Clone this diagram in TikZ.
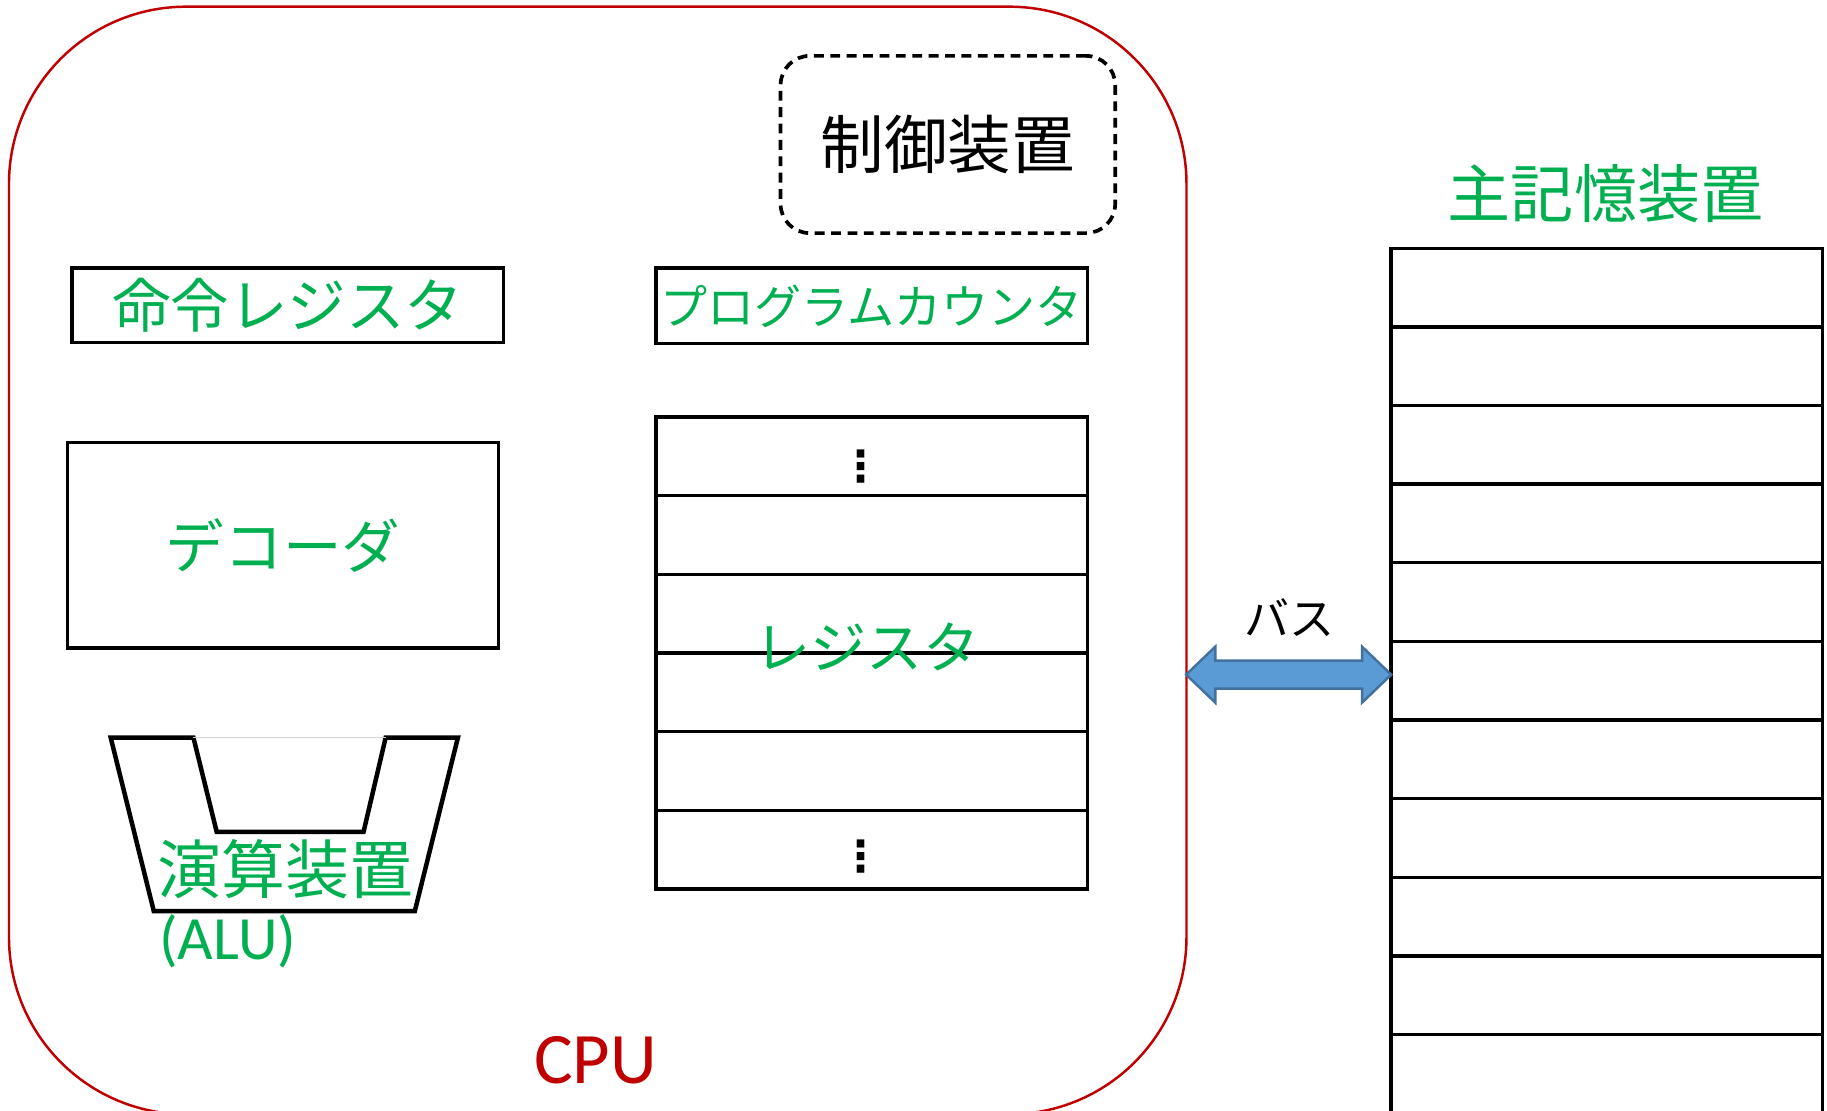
\documentclass[tikz,border=0pt]{standalone}
\usepackage{fontspec}
\setmainfont{Carlito}
\newfontfamily\jpfont{Noto Sans CJK JP}
\newfontfamily\symfont{DejaVu Sans}
\usetikzlibrary{positioning}
\definecolor{cpured}{HTML}{C00000}
\definecolor{partgreen}{HTML}{00B050}
\definecolor{busfill}{HTML}{5B9BD5}
\definecolor{busedge}{HTML}{41719C}
\newcommand{\jpsize}[1]{\jpfont\fontsize{#1}{#1}\selectfont}
\tikzstyle{cpubox} = [rectangle, rounded corners=1.52cm, minimum width=10.1cm, minimum height=9.5cm, draw=cpured, line width=0.6pt]
\tikzstyle{ctrlbox} = [rectangle, rounded corners=0.25cm, minimum width=2.87cm, minimum height=1.52cm, draw=black, line width=0.9pt, dash pattern=on 2.4pt off 1.6pt, font=\jpsize{15.5pt}]
\tikzstyle{regbox} = [rectangle, minimum width=3.7cm, draw=black, line width=0.8pt, text=partgreen, inner sep=0pt, font=\jpsize{14.3pt}]
\tikzstyle{cell} = [rectangle, minimum width=3.7cm, minimum height=0.675cm, draw=black, line width=0.8pt, inner sep=0pt]
\tikzstyle{greenlabel} = [text=partgreen, inner sep=0pt]
\tikzstyle{rowdots} = [inner sep=0pt, font=\symfont\bfseries\fontsize{10.5pt}{10.5pt}\selectfont]
\tikzstyle{alushape} = [draw=black, line width=1.1pt, line join=miter]
\tikzstyle{busarrow} = [fill=busfill, draw=busedge, line width=0.6pt, line join=miter]

\begin{document}
\begin{tikzpicture}[x=0.01cm, y=-0.01cm]
    \useasboundingbox (0,0) rectangle (1568,953.5);
    \clip (0,0) rectangle (1568,953.5);
    % CPU
    \node (cpu) [cpubox] at (513,481) {};
    \node (cpulabel) [text=cpured, font=\fontsize{17.7pt}{18pt}\selectfont] at (511,910) {CPU};
    \node (ctrl) [ctrlbox] at (813.5,124) {制御装置};
    \node (ir) [regbox, minimum height=0.64cm] at (247,262) {命令レジスタ};
    \node (pc) [regbox, minimum height=0.65cm, font=\jpsize{11.5pt}] at (748,262.5) {プログラムカウンタ};
    \node (dec) [regbox, minimum height=1.76cm] at (243,468) {デコーダ};

    % register file
    \foreach \i in {0,...,5}
        \node (reg\i) [cell] at (748,{391.75+67.5*\i}) {};
    \node (regdotsA) [rowdots] at (739,400) {⋮};
    \node (regdotsB) [rowdots] at (739,735) {⋮};
    \node (reglabel) [greenlabel, font=\jpsize{13.7pt}] at (744,555) {レジスタ};

    % ALU
    \draw [alushape] (95,633) -- (166,633) -- (186,714) -- (312,714) -- (331,633) -- (393,633) -- (356,782) -- (132,782) -- cycle;
    \draw [gray!35, line width=0.4pt] (166,633) -- (331,633);
    \node (alu) [greenlabel, font=\jpsize{15.6pt}] at (245,746) {演算装置};
    \node (alutag) [greenlabel, anchor=west, font=\fontsize{15pt}{15pt}\selectfont] at (136,808) {(ALU)};

    % main memory
    \node (memlabel) [greenlabel, font=\jpsize{15.4pt}] at (1378,166) {主記憶装置};
    \foreach \i in {0,...,11}
        \node (mem\i) [cell] at (1379,{246.75+67.5*\i}) {};

    % bus
    \coordinate (busL) at (1018,579);
    \coordinate (busR) at (1194,579);
    \draw [busarrow] (busL) -- ++(25,-24) -- ++(0,12) -- ++(126,0) -- ++(0,-12) -- (busR) -- ++(-25,24) -- ++(0,-12) -- ++(-126,0) -- ++(0,12) -- cycle;
    \node (buslabel) [inner sep=0pt, font=\jpsize{11pt}] at (1107,530) {バス};
\end{tikzpicture}
\end{document}
